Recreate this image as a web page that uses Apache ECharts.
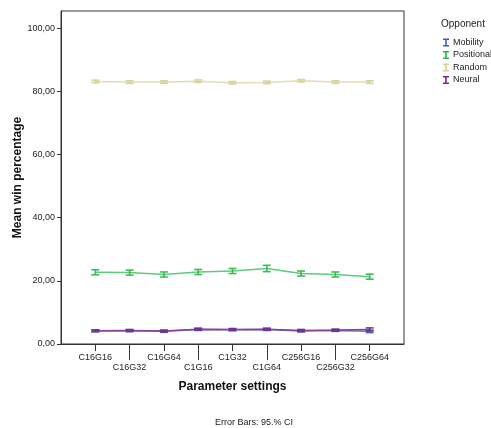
<!DOCTYPE html>
<html>
<head>
<meta charset="utf-8">
<script src="https://cdn.jsdelivr.net/npm/echarts@6/dist/echarts.min.js"></script>
<style>html,body{margin:0;padding:0;background:#fff}#c{width:491px;height:428px}</style>
</head>
<body>
<div id="c"></div>
<script>
// Categories (padded with empty slots at both ends for the SPSS-style axis margin)
var categories = ['C16G16','C16G32','C16G64','C1G16','C1G32','C1G64','C256G16','C256G32','C256G64'];
var yTicks = [0, 20, 40, 60, 80, 100];

// Mean win percentage per opponent
var mobility   = [4.2, 4.2, 4.0, 4.6, 4.5, 4.6, 4.1, 4.3, 4.0];
var positional = [22.7, 22.6, 22.0, 22.8, 23.1, 23.9, 22.3, 22.0, 21.3];
var random     = [83.1, 82.9, 82.9, 83.2, 82.7, 82.8, 83.3, 82.9, 82.9];
var neural     = [4.2, 4.3, 4.1, 4.7, 4.6, 4.7, 4.3, 4.4, 4.6];

// 95% CI half-widths
var mobilityErr   = [0.3, 0.3, 0.3, 0.3, 0.3, 0.3, 0.3, 0.3, 0.4];
var positionalErr = [0.8, 0.8, 0.8, 0.8, 0.8, 1.0, 0.8, 0.8, 0.8];
var randomErr     = [0.4, 0.4, 0.4, 0.4, 0.4, 0.4, 0.4, 0.4, 0.4];
var neuralErr     = [0.3, 0.3, 0.3, 0.3, 0.3, 0.3, 0.3, 0.3, 0.5];

var cats = [''].concat(categories).concat(['']);
function pad(a){ return [null].concat(a).concat([null]); }
function errData(m, e){ return m.map(function(v,i){ return [i+1, v-e[i], v+e[i]]; }); }

var COL = {
  Mobility:   {line:'#5b74c8', bar:'#3d5cbf'},
  Positional: {line:'#5ccc78', bar:'#2fb34c'},
  Random:     {line:'#e2dcae', bar:'#d6cf98'},
  Neural:     {line:'#8b3f96', bar:'#7a2a86'}
};

function errSeries(name, m, e){
  var c = COL[name].bar;
  return {
    type:'custom', name: name+'_err', xAxisIndex:0, yAxisIndex:0, z:3,
    data: errData(m, e),
    renderItem: function(params, api){
      var x = api.value(0);
      var lo = api.coord([x, api.value(1)]);
      var hi = api.coord([x, api.value(2)]);
      var w = 4;
      var st = {stroke:c, lineWidth:1.6, opacity:0.9};
      return {type:'group', children:[
        {type:'line', shape:{x1:lo[0], y1:lo[1], x2:hi[0], y2:hi[1]}, style:st},
        {type:'line', shape:{x1:lo[0]-w, y1:lo[1], x2:lo[0]+w, y2:lo[1]}, style:st},
        {type:'line', shape:{x1:hi[0]-w, y1:hi[1], x2:hi[0]+w, y2:hi[1]}, style:st}
      ]};
    }
  };
}
function lineSeries(name, m){
  return {
    type:'line', name:name, data: pad(m), symbol:'none', z:2,
    xAxisIndex:0, yAxisIndex:0,
    lineStyle:{color:COL[name].line, width:1.5},
    itemStyle:{color:COL[name].bar},
    animation:false
  };
}

var font = 'Liberation Sans, Arial, sans-serif';
var icon = 'path://M0,0 H6 V1.4 H3.8 V6.6 H6 V8 H0 V6.6 H2.2 V1.4 H0 Z';

var chart = echarts.init(document.getElementById('c'), null, {renderer:'canvas'});
chart.setOption({
  animation:false,
  textStyle:{fontFamily:font},
  grid:{left:61, right:87, top:11, bottom:84, show:true, borderColor:'#333', borderWidth:1, backgroundColor:'transparent'},
  xAxis:[{
    type:'category', data:cats, boundaryGap:false, position:'bottom',
    axisLine:{show:true, lineStyle:{color:'#333'}},
    axisTick:{show:true, length:7, lineStyle:{color:'#333'},
      interval:function(i){ return i>=1 && i<=9 && (i%2===1); }},
    axisLabel:{color:'#222', fontSize:9, margin:9, fontFamily:font,
      interval:function(i){ return i>=1 && i<=9 && (i%2===1); }},
    splitLine:{show:false},
    name:'Parameter settings', nameLocation:'middle', nameGap:37, nameMoveOverlap:false,
    nameTextStyle:{fontSize:12, fontWeight:'bold', color:'#111', fontFamily:font}
  },{
    type:'category', data:cats, boundaryGap:false, position:'bottom', gridIndex:0,
    axisLine:{show:false},
    axisTick:{show:true, length:16, lineStyle:{color:'#333'},
      interval:function(i){ return i>=2 && i<=8 && (i%2===0); }},
    axisLabel:{color:'#222', fontSize:9, margin:19, fontFamily:font,
      interval:function(i){ return i>=2 && i<=8 && (i%2===0); }},
    splitLine:{show:false}
  }],
  yAxis:{
    type:'value', min:0, max:105.4, interval:20,
    axisLine:{show:true, lineStyle:{color:'#333'}},
    axisTick:{show:true, length:4, lineStyle:{color:'#333'}},
    axisLabel:{color:'#222', fontSize:9, margin:6, showMaxLabel:false, fontFamily:font,
      formatter:function(v){ return yTicks.indexOf(v) >= 0 ? v.toFixed(2).replace('.', ',') : ''; }},
    splitLine:{show:false},
    name:'Mean win percentage', nameLocation:'middle', nameGap:37, nameRotate:90, nameMoveOverlap:false,
    nameTextStyle:{fontSize:12, fontWeight:'bold', color:'#111', fontFamily:font}
  },
  legend:{
    orient:'vertical', left:438, top:33, itemWidth:6, itemHeight:8, itemGap:3.5,
    data:[{name:'Mobility', icon:icon},{name:'Positional', icon:icon},{name:'Random', icon:icon},{name:'Neural', icon:icon}],
    textStyle:{fontSize:9, color:'#222', fontFamily:font, padding:[0,0,0,-1]},
    selectedMode:false
  },
  graphic:[
    {type:'text', left:441, top:19, style:{text:'Opponent', fontSize:10, fill:'#222', fontFamily:font}},
    {type:'text', left:215, top:418, style:{text:'Error Bars: 95.% CI', fontSize:9, fill:'#222', fontFamily:font}}
  ],
  series:[
    lineSeries('Random', random), errSeries('Random', random, randomErr),
    lineSeries('Positional', positional), errSeries('Positional', positional, positionalErr),
    lineSeries('Mobility', mobility), errSeries('Mobility', mobility, mobilityErr),
    lineSeries('Neural', neural), errSeries('Neural', neural, neuralErr)
  ]
});
</script>
</body>
</html>
